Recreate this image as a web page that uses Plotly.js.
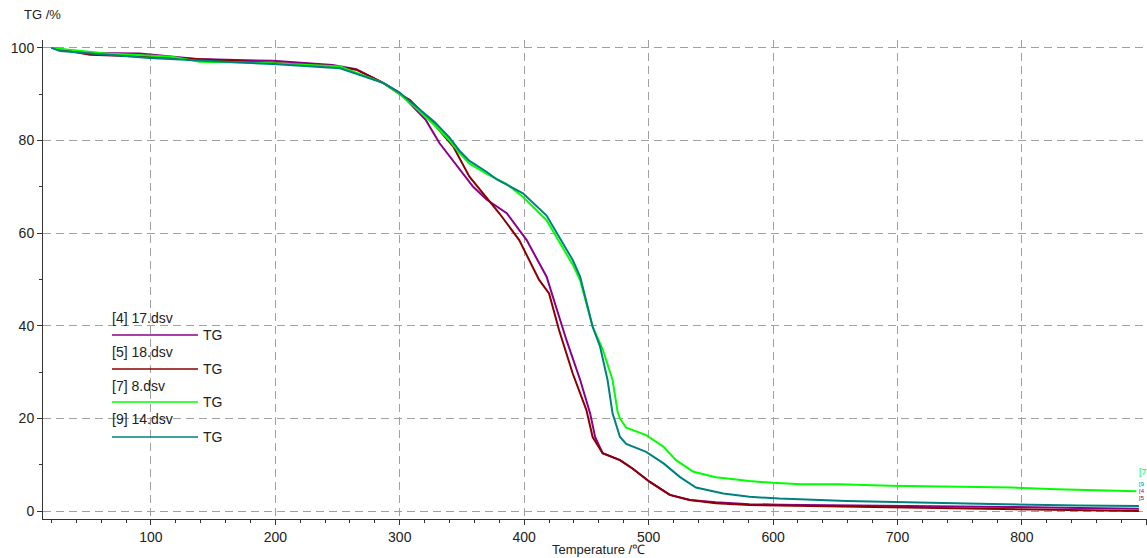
<!DOCTYPE html>
<html><head><meta charset="utf-8">
<script src="https://cdn.plot.ly/plotly-3.0.1.min.js"></script>
<style>html,body{margin:0;padding:0;background:#fff}#chart{width:1147px;height:558px}</style>
</head><body><div id="chart"></div>
<script>
// ---- data ----
const seriesNames = ["[4] 17.dsv", "[5] 18.dsv", "[7] 8.dsv", "[9] 14.dsv"];
const seriesColors = ["#8b008b", "#8b0000", "#00ff00", "#008080"];

const temp17 = [20, 50, 91, 137, 198, 246, 265, 287, 300, 313, 321, 332, 346, 359, 370, 386, 402, 418, 434, 445, 453, 457, 463, 477, 487, 501, 517, 533, 554, 581, 605, 650, 712, 790, 846, 894];
const tg17   = [100, 98.9, 98.8, 97.6, 97.2, 96.3, 95.4, 92.4, 90.3, 86.6, 84.4, 79.4, 74.4, 70.0, 67.2, 64.3, 58.5, 50.6, 36.9, 28.3, 21.1, 16.0, 12.5, 11.0, 9.2, 6.3, 3.5, 2.4, 1.9, 1.5, 1.4, 1.3, 1.1, 0.9, 0.7, 0.5];

const temp18 = [20, 51, 99, 198, 246, 265, 287, 300, 308, 327, 343, 356, 367, 380, 396, 407, 412, 420, 428, 439, 450, 455, 463, 477, 487, 501, 517, 533, 554, 581, 605, 650, 739, 790, 846, 894];
const tg18   = [100, 98.5, 98.1, 96.8, 96.1, 95.3, 92.4, 90.0, 88.8, 83.7, 78.7, 72.2, 68.6, 64.3, 58.5, 52.8, 49.9, 47.0, 39.1, 29.7, 21.8, 16.0, 12.5, 11.0, 9.2, 6.3, 3.5, 2.4, 1.7, 1.3, 1.2, 1.0, 0.7, 0.5, 0.2, 0.0];

const temp8 = [20, 64, 117, 139, 198, 252, 287, 300, 313, 328, 340, 348, 356, 370, 386, 399, 418, 431, 439, 445, 455, 463, 471, 475, 477, 482, 490, 498, 512, 522, 536, 554, 581, 600, 622, 653, 694, 792, 828, 892];
const tg8   = [100, 98.8, 98.1, 97.0, 96.7, 96.0, 92.4, 90.0, 87.0, 83.3, 80.0, 77.3, 75.0, 72.8, 70.6, 67.8, 62.8, 57.0, 53.2, 49.8, 39.8, 35.0, 28.3, 21.5, 20.0, 18.0, 17.2, 16.4, 13.9, 11.0, 8.5, 7.3, 6.5, 6.1, 5.8, 5.8, 5.5, 5.1, 4.7, 4.3];

const temp14 = [20, 27, 99, 198, 252, 287, 300, 313, 328, 340, 348, 356, 370, 378, 386, 399, 418, 431, 439, 445, 455, 461, 467, 471, 477, 482, 498, 512, 525, 538, 560, 581, 605, 659, 726, 766, 846, 894];
const tg14   = [100, 99.3, 97.8, 96.5, 95.6, 92.4, 90.3, 87.4, 84.0, 80.6, 77.8, 75.6, 73.2, 71.6, 70.5, 68.6, 63.8, 57.8, 54.2, 50.6, 39.8, 35.5, 28.3, 21.1, 16.0, 14.5, 12.8, 10.3, 7.4, 5.1, 3.8, 3.1, 2.7, 2.2, 1.9, 1.6, 1.2, 1.1];

const xTickVals = [100, 200, 300, 400, 500, 600, 700, 800];
const yTickVals = [0, 20, 40, 60, 80, 100];
const xTitle = "Temperature /℃";
const yTitle = "TG /%";
const curveLabel = "TG";
const endLabels = ["[4", "[5", "[7", "[9"];

// ---- build ----
const temps = [temp17, temp18, temp8, temp14];
const tgs = [tg17, tg18, tg8, tg14];
const FONT = "Liberation Sans, Arial, sans-serif";

const traces = temps.map((t, i) => ({
  x: t, y: tgs[i], type: "scatter", mode: "lines", name: seriesNames[i],
  line: {color: seriesColors[i], width: 2}, showlegend: false, hoverinfo: "skip"
}));

// plot area in pixels: left 43, right 1147, top 40, bottom 519
const px2x = p => (p - 43) / 1104;
const px2y = p => (519 - p) / 479;

const shapes = [];
const annotations = [];
const legTextY = [318, 352, 386, 419];
const legLineY = [335, 369, 402, 437];
seriesNames.forEach((n, i) => {
  annotations.push({xref: "paper", yref: "paper", x: px2x(110), y: px2y(legTextY[i]), xanchor: "left", yanchor: "middle",
    text: n, showarrow: false, font: {family: FONT, size: 14, color: "#222"}});
  shapes.push({type: "line", xref: "paper", yref: "paper", x0: px2x(112), x1: px2x(198), y0: px2y(legLineY[i]), y1: px2y(legLineY[i]),
    line: {color: seriesColors[i], width: 1.3}});
  annotations.push({xref: "paper", yref: "paper", x: px2x(201), y: px2y(legLineY[i]), xanchor: "left", yanchor: "middle",
    text: curveLabel, showarrow: false, font: {family: FONT, size: 14, color: "#222"}});
});
// clipped end labels at right edge (green on top, then the others stacked)
const endY = [491, 498, 472, 484];
endLabels.forEach((t, i) => annotations.push({xref: "paper", yref: "paper", x: px2x(1137), y: px2y(endY[i]), xanchor: "left", yanchor: "middle",
  text: t, showarrow: false, font: {family: FONT, size: i === 2 ? 9 : 6, color: seriesColors[i]}}));
// axis titles
annotations.push({xref: "paper", yref: "paper", x: px2x(22), y: px2y(15), xanchor: "left", yanchor: "middle",
  text: yTitle, showarrow: false, font: {family: FONT, size: 13, color: "#222"}});
annotations.push({xref: "paper", yref: "paper", x: px2x(598), y: px2y(549), xanchor: "center", yanchor: "middle",
  text: xTitle, showarrow: false, font: {family: FONT, size: 13, color: "#222"}});

const axisCommon = {
  showline: true, linecolor: "#333", linewidth: 1, ticks: "outside", ticklen: 5, tickcolor: "#333",
  showgrid: true, gridcolor: "#a0a0a0", gridwidth: 1, griddash: "8px,5px", zeroline: false,
  tickfont: {family: FONT, size: 14, color: "#222"}, mirror: false, fixedrange: true
};

const layout = {
  width: 1147, height: 558, margin: {l: 43, r: 0, t: 40, b: 39},
  paper_bgcolor: "#fff", plot_bgcolor: "#fff", showlegend: false,
  xaxis: Object.assign({}, axisCommon, {range: [13.3, 900.5], tickvals: xTickVals.concat([900]), ticktext: xTickVals.map(String).concat([""]),
    minor: {dtick: 20, tick0: 0, ticks: "outside", ticklen: 3, tickcolor: "#333", showgrid: false}}),
  yaxis: Object.assign({}, axisCommon, {range: [-1.7, 101.7], tickvals: yTickVals,
    minor: {dtick: 10, tick0: 0, ticks: "outside", ticklen: 3, tickcolor: "#333", showgrid: false}}),
  shapes: shapes, annotations: annotations
};

Plotly.newPlot("chart", traces, layout, {displayModeBar: false, staticPlot: true});
</script></body></html>
